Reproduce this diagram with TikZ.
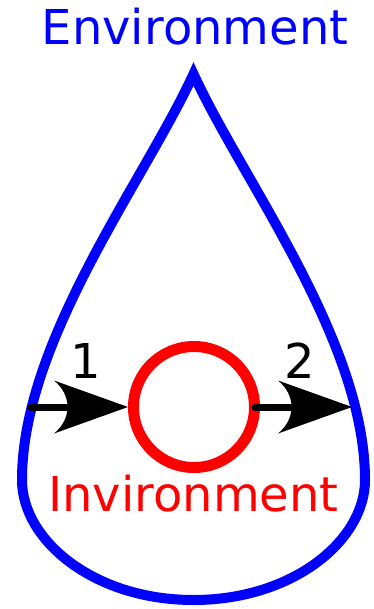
\documentclass[tikz,border=0pt]{standalone}
\usepackage{fontspec}
\setmainfont{DejaVu Sans}
\usetikzlibrary{arrows.meta}
\pgfdeclarearrow{
  name = Dart,
  setup code = {
    \pgfarrowssettipend{0pt}
    \pgfarrowssetlineend{-60pt}
    \pgfarrowssetbackend{-74pt}
  },
  drawing code = {
    \pgfpathmoveto{\pgfqpoint{0pt}{0pt}}
    \pgfpathlineto{\pgfqpoint{-74pt}{26.5pt}}
    \pgfpathcurveto{\pgfqpoint{-56pt}{12pt}}{\pgfqpoint{-56pt}{-12pt}}{\pgfqpoint{-74pt}{-26.5pt}}
    \pgfpathclose
    \pgfusepathqfill
  }
}
\tikzset{
  drop/.style={draw=blue, line width=10pt, line join=miter},
  ring/.style={circle, draw=red, line width=11pt, minimum size=121pt, inner sep=0pt},
  flow/.style={draw=black, fill=black, line width=7pt, line cap=round, -{Dart}},
  lbl/.style={font=\fontsize{48}{48}\selectfont, anchor=base, inner sep=0pt}
}
\begin{document}
\begin{tikzpicture}[x=1pt,y=-1pt]
\useasboundingbox (0,0) rectangle (373,609);
% drop outline
\draw[drop] (193.5,74) .. controls (145,180) and (22,340) .. (22,480)
  .. controls (22,540) and (93.5,600) .. (193.5,600)
  .. controls (293.5,600) and (365,540) .. (365,480)
  .. controls (365,340) and (242,180) .. cycle;
% labels
\node[lbl, text=blue] (envtop) at (195,45) {Environment};
\node[lbl, text=red] (envin) at (193.3,511) {Invironment};
% ring
\node[ring] (sys) at (194,407) {};
% connectors
\coordinate (lstart) at (31,407);
\coordinate (rstart) at (255,407);
\coordinate (rend) at (352,407);
\draw[flow] (lstart) -- (sys.west);
\draw[flow] (rstart) -- (rend);
\node[lbl] (one) at (85.5,378.3) {1};
\node[lbl] (two) at (300,378.3) {2};
\end{tikzpicture}
\end{document}
